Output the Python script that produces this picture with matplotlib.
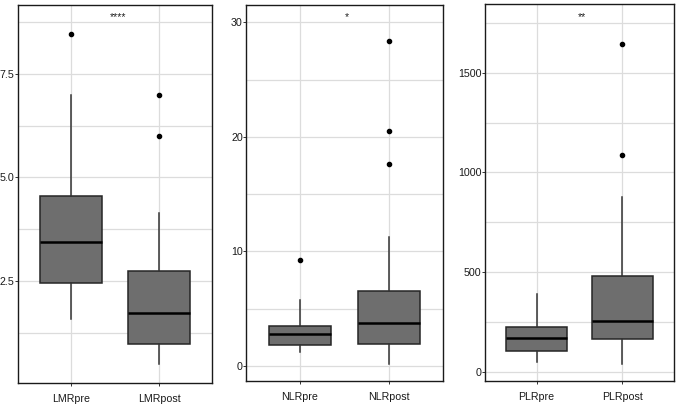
import matplotlib
matplotlib.use('Agg')
import matplotlib.pyplot as plt
import numpy as np

plt.rcParams['font.family'] = ['Liberation Sans', 'DejaVu Sans']

# Box statistics (q1, median, q3, whisker low, whisker high)
groups = [['LMRpre', 'LMRpost'], ['NLRpre', 'NLRpost'], ['PLRpre', 'PLRpost']]
q1 = [[2.46, 0.99], [1.83, 1.95], [107, 165]]
med = [[3.44, 1.73], [2.76, 3.74], [172, 258]]
q3 = [[4.56, 2.75], [3.46, 6.51], [227, 483]]
whislo = [[1.57, 0.49], [1.25, 0.15], [52, 42]]
whishi = [[7.0, 4.14], [5.76, 11.3], [389, 878]]
fliers = [[[8.46], [7.0, 6.0]], [[9.25], [28.4, 20.5, 17.65]], [[], [1644, 1088]]]

signif = ['****', '*', '**']
signif_y = [8.88, 30.5, 1781]

major_ticks = [[2.5, 5.0, 7.5], [0, 10, 20, 30], [0, 500, 1000, 1500]]
tick_labels = [['2.5', '5.0', '7.5'], ['0', '10', '20', '30'], ['0', '500', '1000', '1500']]
minor_ticks = [[1.25, 3.75, 6.25, 8.75], [5, 15, 25], [250, 750, 1250, 1750]]
ylims = [(0.044, 9.17), (-1.31, 31.54), (-45.1, 1842.8)]

W, H = 677, 408
panels = [(18, 212, 4.7, 382.7), (246.3, 442.7, 4.7, 381), (485, 674, 4.3, 381)]

fig = plt.figure(figsize=(W / 100, H / 100), dpi=100)

for k in range(3):
    x0, x1, yt, yb = panels[k]
    ax = fig.add_axes([x0 / W, 1 - yb / H, (x1 - x0) / W, (yb - yt) / H])

    stats = []
    for j in range(2):
        stats.append(dict(label=groups[k][j], q1=q1[k][j], med=med[k][j], q3=q3[k][j],
                          whislo=whislo[k][j], whishi=whishi[k][j], fliers=fliers[k][j]))

    ax.bxp(stats, positions=[1, 2], widths=0.7, patch_artist=True, showcaps=False,
           boxprops=dict(facecolor='#6e6e6e', edgecolor='#262626', linewidth=1.1),
           whiskerprops=dict(color='#333333', linewidth=1.1),
           medianprops=dict(color='black', linewidth=1.8),
           flierprops=dict(marker='o', markerfacecolor='black', markeredgecolor='black',
                           markersize=3.0),
           zorder=3)

    ax.set_xlim(0.4, 2.6)
    ax.set_ylim(*ylims[k])
    ax.set_xticks([1, 2])
    ax.set_xticklabels(groups[k])
    ax.set_yticks(major_ticks[k])
    ax.set_yticklabels(tick_labels[k])
    ax.set_yticks(minor_ticks[k], minor=True)

    ax.grid(True, which='major', color='#dcdcdc', linewidth=0.9)
    ax.grid(True, which='minor', axis='y', color='#dcdcdc', linewidth=0.9)
    ax.set_axisbelow(True)

    ax.tick_params(axis='both', which='major', labelsize=7.7, colors='#333333',
                   labelcolor='#1a1a1a', length=2.2, width=0.7)
    ax.tick_params(axis='y', pad=0.3)
    ax.tick_params(axis='x', pad=6)
    ax.tick_params(which='minor', length=0)
    for s in ax.spines.values():
        s.set_color('#1a1a1a')
        s.set_linewidth(1.0)

    ax.text(1.53, signif_y[k], signif[k], ha='center', va='center', fontsize=7.5,
            color='#222222')

plt.savefig('out.png', dpi=100)
